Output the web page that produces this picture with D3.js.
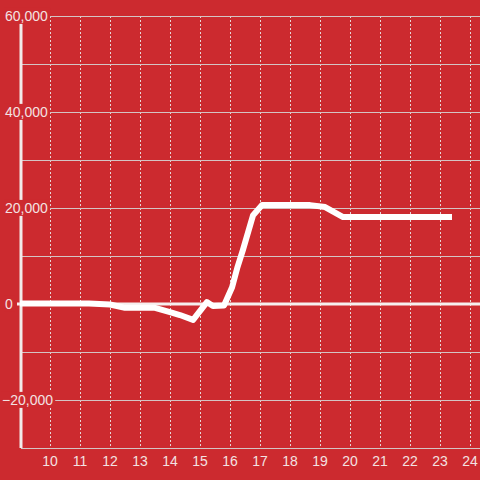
<!DOCTYPE html>
<html>
<head>
<meta charset="utf-8">
<script src="https://cdn.jsdelivr.net/npm/d3@7"></script>
<style>
  body { margin: 0; background: #cc2a2f; }
  svg { display: block; font-family: "Liberation Sans", Arial, sans-serif; }
</style>
</head>
<body>
<div id="chart"></div>
<script>
// data
var hours  = [9.0, 11.3, 12.0, 12.5, 13.5, 14.0, 14.33, 14.77, 15.23, 15.43, 15.8, 16.07, 16.25, 16.43, 16.77, 17.07, 18.67, 19.17, 19.77, 23.4];
var values = [100, 100, -100, -800, -800, -1700, -2300, -3300, 400, -400, -300, 3500, 7700, 11250, 18500, 20600, 20600, 20200, 18100, 18100];
var xTicks = [10, 11, 12, 13, 14, 15, 16, 17, 18, 19, 20, 21, 22, 23, 24];
var yTicks = [60000, 50000, 40000, 30000, 20000, 10000, 0, -10000, -20000, -30000];
var yLabels = [60000, 40000, 20000, 0, -20000];

var W = 480, H = 480;
var bg = "#cc2a2f";

var x = d3.scaleLinear().domain([9, 24 + 1/3]).range([20, 480]);
var y = d3.scaleLinear().domain([-30000, 60000]).range([448, 16]);

var svg = d3.select("#chart").append("svg")
  .attr("width", W)
  .attr("height", H);

svg.append("rect").attr("width", W).attr("height", H).attr("fill", bg);

// vertical dashed grid
svg.selectAll(".vgrid")
  .data(xTicks)
  .enter().append("line")
  .attr("x1", function(d) { return Math.round(x(d)) + 0.5; })
  .attr("x2", function(d) { return Math.round(x(d)) + 0.5; })
  .attr("y1", y(60000))
  .attr("y2", y(-30000))
  .attr("stroke", "#e6d6d6")
  .attr("stroke-width", 1)
  .attr("stroke-dasharray", "2,2");

// horizontal grid
svg.selectAll(".hgrid")
  .data(yTicks.filter(function(d) { return d != 0; }))
  .enter().append("line")
  .attr("x1", function(d) { return yLabels.indexOf(d) >= 0 ? 17 : 21; })
  .attr("x2", W)
  .attr("y1", function(d) { return Math.round(y(d)) + 0.5; })
  .attr("y2", function(d) { return Math.round(y(d)) + 0.5; })
  .attr("stroke", "#d4c4c4")
  .attr("stroke-width", 1);

// zero line
svg.append("line")
  .attr("x1", 17).attr("x2", W)
  .attr("y1", y(0)).attr("y2", y(0))
  .attr("stroke", "#f6eeee")
  .attr("stroke-width", 3);

// left axis bar
svg.append("line")
  .attr("x1", 21).attr("x2", 21)
  .attr("y1", y(60000)).attr("y2", y(-30000))
  .attr("stroke", "#f2eaea")
  .attr("stroke-width", 3);

// y labels with background that hides the axis bar
var yl = svg.selectAll(".ylab")
  .data(yLabels)
  .enter().append("g")
  .attr("transform", function(d) { return "translate(5," + y(d) + ")"; });

yl.append("text")
  .attr("dy", "0.35em")
  .attr("fill", "#f3e2e2")
  .style("font-size", "14px")
  .attr("x", function(d) { return d < 0 ? -3 : 0; })
  .text(function(d) { return d3.format(",")(d); });

yl.each(function() {
  var t = d3.select(this).select("text");
  var b = t.node().getBBox();
  d3.select(this).insert("rect", "text")
    .attr("x", b.x - 1)
    .attr("y", b.y)
    .attr("width", b.width + 3)
    .attr("height", b.height)
    .attr("fill", bg);
});

// x labels
svg.selectAll(".xlab")
  .data(xTicks)
  .enter().append("text")
  .attr("x", function(d) { return x(d); })
  .attr("y", 466)
  .attr("text-anchor", "middle")
  .attr("fill", "#f3e2e2")
  .style("font-size", "14px")
  .text(function(d) { return d; });

// data line
var line = d3.line()
  .x(function(d, i) { return x(hours[i]); })
  .y(function(d) { return y(d); });

svg.append("path")
  .datum(values)
  .attr("d", line)
  .attr("fill", "none")
  .attr("stroke", "#ffffff")
  .attr("stroke-width", 6)
  .attr("stroke-linejoin", "round");
</script>
</body>
</html>
